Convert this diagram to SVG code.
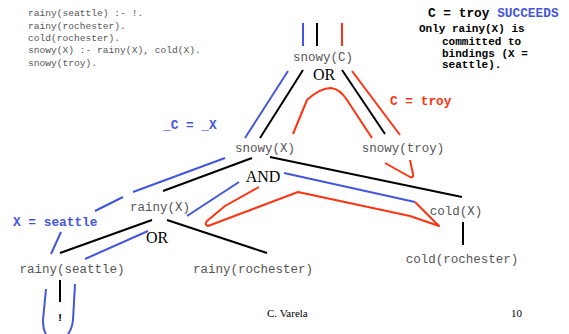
<svg xmlns="http://www.w3.org/2000/svg" width="569" height="334" viewBox="0 0 569 334">
<style>
.code{font-family:"Liberation Mono",monospace;font-size:9.6px;fill:#555}
.node{font-family:"Liberation Mono",monospace;font-size:12.5px;fill:#555;text-anchor:middle}
.op{font-family:"Liberation Serif",serif;font-size:16px;fill:#000;text-anchor:middle}
.note{font-family:"Liberation Mono",monospace;font-weight:bold;font-size:11px;fill:#000}
.lbl{font-family:"Liberation Mono",monospace;font-weight:bold;font-size:12.8px}
.foot{font-family:"Liberation Serif",serif;font-size:11px;fill:#000}
.k{stroke:#000;stroke-width:2;fill:none}
.b{stroke:#4455dd;stroke-width:2;fill:none}
.r{stroke:#ff3311;stroke-width:2;fill:none;stroke-linejoin:round}
</style>
<rect width="569" height="334" fill="#fff"/>
<g id="program">
<text class="code" x="28" y="16">rainy(seattle) :- !.</text>
<text class="code" x="28" y="28.5">rainy(rochester).</text>
<text class="code" x="28" y="41">cold(rochester).</text>
<text class="code" x="28" y="53">snowy(X) :- rainy(X), cold(X).</text>
<text class="code" x="28" y="65.5">snowy(troy).</text>
</g>
<g id="notes">
<text class="lbl" x="428" y="17" fill="#000">C = troy <tspan fill="#4455dd">SUCCEEDS</tspan></text>
<text class="note" x="419" y="31.5">Only rainy(X) is</text>
<text class="note" x="442" y="44.5">committed to</text>
<text class="note" x="442" y="56.5">bindings (X =</text>
<text class="note" x="442" y="67.5">seattle).</text>
<text class="lbl" x="390" y="104.5" fill="#ff3311">C = troy</text>
<text class="lbl" x="163" y="128.5" fill="#4455dd">_C = _X</text>
<text class="lbl" x="13" y="225.5" fill="#4455dd">X = seattle</text>
</g>
<g id="connectors">
<line class="b" x1="303" y1="23" x2="303" y2="46"/>
<line class="k" x1="317" y1="23" x2="317" y2="46"/>
<line class="r" x1="342" y1="23" x2="342" y2="46"/>
<line class="b" x1="288" y1="71" x2="245" y2="138"/>
<line class="k" x1="303" y1="70" x2="260" y2="138"/>
<line class="k" x1="342" y1="70" x2="385" y2="134"/>
<line class="r" x1="352" y1="71" x2="400" y2="135"/>
<path class="r" d="M293,134 L307,100 Q320,88 331,88 Q340,89 347,100 L372,138"/>
<path class="r" d="M385,163 L410,177 Q414,178 413,174 L410,160"/>
<line class="b" x1="225" y1="158" x2="133" y2="192"/>
<line class="b" x1="123" y1="197" x2="95" y2="211"/>
<line class="b" x1="61" y1="232" x2="51" y2="254"/>
<line class="k" x1="252" y1="158" x2="163" y2="191"/>
<line class="k" x1="270" y1="157" x2="462" y2="197"/>
<line class="b" x1="284" y1="173" x2="415" y2="202"/>
<line class="b" x1="239" y1="182" x2="187" y2="216"/>
<path class="r" d="M415,202 L439,226 L410,216 L298,192 L208,226 Q204,225 207,221 L225,206 L259,187"/>
<line class="k" x1="463" y1="222" x2="463" y2="245"/>
<line class="k" x1="167" y1="220" x2="267" y2="253"/>
<line class="k" x1="152" y1="220" x2="60" y2="253"/>
<line class="b" x1="148" y1="231" x2="85" y2="259"/>
<line class="k" x1="60" y1="280" x2="60" y2="302"/>
<path class="b" d="M46,289 L43,320 Q43,330 46,334"/>
<path class="b" d="M75,284 L73,320 Q72,329 68,334"/>
</g>
<g id="snowyC"><text class="node" x="323" y="61">snowy(C)</text><text class="op" x="324" y="79.5">OR</text></g>
<g id="snowyX"><text class="node" x="265" y="152">snowy(X)</text><text class="op" x="263" y="181.5">AND</text></g>
<g id="snowyTroy"><text class="node" x="403" y="152">snowy(troy)</text></g>
<g id="rainyX"><text class="node" x="160" y="211">rainy(X)</text><text class="op" x="157" y="242.5">OR</text></g>
<g id="coldX"><text class="node" x="456" y="215">cold(X)</text></g>
<g id="coldRochester"><text class="node" x="462" y="263">cold(rochester)</text></g>
<g id="rainyRochester"><text class="node" x="253" y="273">rainy(rochester)</text></g>
<g id="rainySeattle"><text class="node" x="72" y="273">rainy(seattle)</text></g>
<g id="cut"><text class="note" x="60" y="321" text-anchor="middle">!</text></g>
<g id="footer">
<text class="foot" x="267" y="317">C. Varela</text>
<text class="foot" x="511" y="317">10</text>
</g>
</svg>
